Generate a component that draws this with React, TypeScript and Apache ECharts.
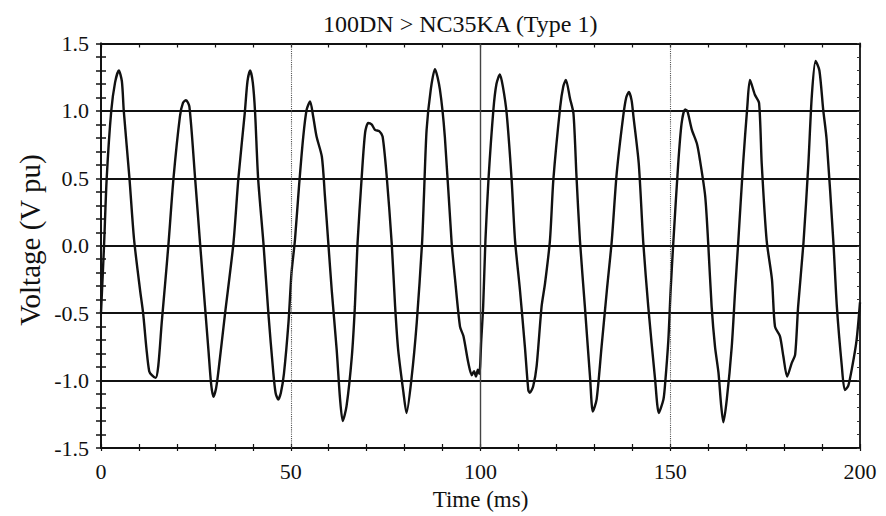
import React, { useEffect, useRef } from "react";
import * as echarts from "echarts";

const chartTitle = "100DN > NC35KA (Type 1)";
const xName = "Time (ms)";
const yName = "Voltage (V pu)";

const timeMs = [
  0, 0.8, 1.5, 2.7, 3.7, 4.7, 5.5, 6.0, 7.5, 8.7, 10.3, 11.1, 12.0, 12.7, 13.4, 14.4, 15.1, 16.0, 16.9, 17.8,
  19.1, 20.8, 21.6, 22.4, 23.3, 24.8, 26.1, 27.4, 28.3, 29.0, 29.6, 30.3, 30.9, 32.7, 34.9,
  36.2, 37.9, 38.6, 39.3, 40.0, 40.6, 41.4, 42.8, 44.1, 45.4, 46.0, 46.7, 47.4, 48.2, 49.4, 50.2, 51.1,
  52.2, 53.3, 54.2, 55.1, 55.9, 56.8, 58.2, 59.0, 59.9, 60.8, 62.1, 63.0, 63.7, 64.7, 66.1, 66.9, 67.6,
  68.7, 69.6, 70.4, 71.3, 72.2, 73.3, 74.2, 75.3, 76.6, 77.5, 78.3, 79.7, 80.5, 81.8, 83.2, 84.6,
  85.1, 85.8, 86.9, 88.0, 89.3, 90.6, 92.4, 93.3, 94.6, 95.5, 96.8, 97.7, 98.3, 98.8, 99.3, 99.7, 100.2, 100.7, 101.3,
  102.1, 103.4, 104.2, 105.1, 105.9, 106.9, 108.2, 109.1, 110.4, 111.7, 112.6, 113.0, 113.9, 114.8, 116.1, 117.0, 118.3,
  119.2, 121.0, 121.8, 122.5, 123.6, 124.5, 125.3, 126.2, 127.5, 128.9, 129.6, 130.6, 131.9, 133.3, 134.6,
  135.9, 137.6, 138.4, 139.1, 139.8, 140.3, 141.7, 142.9, 144.2, 146.0, 147.0, 148.2, 148.6, 149.5, 150.1, 150.8,
  152.1, 153.0, 153.9, 154.5, 155.7, 157.0, 157.8, 159.2, 160.0, 160.9, 161.8, 162.7, 163.4, 164.0, 164.9, 166.2, 167.1, 167.9,
  169.2, 170.3, 171.0, 172.3, 173.4, 174.1, 175.4, 176.8, 177.6, 178.9, 179.8, 180.8, 182.0, 182.9, 183.7, 185.1,
  186.4, 187.3, 188.3, 189.3, 190.3, 191.2, 193.0, 193.9, 195.2, 196.0, 196.9, 198.0, 199.1, 200.0,
];

const voltagePu = [
  -0.5, 0.0, 0.5, 1.0, 1.21, 1.3, 1.22, 1.0, 0.5, 0.05, -0.33, -0.5, -0.77, -0.93, -0.96, -0.98, -0.89, -0.57, -0.28, 0.02,
  0.5, 0.96, 1.06, 1.08, 1.03, 0.5, 0.02, -0.45, -0.77, -1.02, -1.12, -1.06, -0.94, -0.5, 0.02,
  0.5, 0.99, 1.22, 1.3, 1.21, 0.99, 0.5, 0.02, -0.5, -0.94, -1.09, -1.14, -1.09, -0.95, -0.57, -0.2, 0.04,
  0.45, 0.81, 1.01, 1.07, 0.96, 0.81, 0.66, 0.37, 0.02, -0.33, -0.77, -1.14, -1.3, -1.19, -0.82, -0.45, 0.02,
  0.51, 0.84, 0.91, 0.9, 0.86, 0.85, 0.81, 0.51, 0.02, -0.45, -0.77, -1.09, -1.24, -0.99, -0.57, 0.02,
  0.37, 0.86, 1.16, 1.31, 1.16, 0.81, 0.02, -0.25, -0.6, -0.67, -0.87, -0.96, -0.93, -0.97, -0.92, -0.95, -0.7, -0.45, 0.04,
  0.49, 1.01, 1.2, 1.27, 1.18, 0.98, 0.49, 0.04, -0.33, -0.75, -1.07, -1.09, -1.04, -0.89, -0.45, -0.28, 0.04,
  0.49, 1.03, 1.18, 1.23, 1.09, 0.98, 0.51, 0.04, -0.45, -0.99, -1.23, -1.14, -0.75, -0.33, 0.04,
  0.54, 0.96, 1.1, 1.14, 1.08, 0.96, 0.61, 0.02, -0.45, -0.99, -1.24, -1.14, -1.04, -0.7, -0.33, 0.02,
  0.61, 0.91, 1.01, 1.0, 0.86, 0.76, 0.64, 0.37, 0.02, -0.45, -0.75, -0.94, -1.18, -1.31, -1.14, -0.75, -0.33, 0.02,
  0.61, 1.03, 1.23, 1.12, 1.06, 0.61, 0.04, -0.25, -0.6, -0.67, -0.82, -0.97, -0.87, -0.81, -0.45, 0.02,
  0.61, 1.11, 1.37, 1.3, 1.01, 0.79, 0.02, -0.45, -0.89, -1.07, -1.04, -0.89, -0.7, -0.42,
];

const dividerTimes = [50, 100, 150];
const dividerStyles = ["dotted", "solid", "dotted"];

const serif = "Liberation Serif";

export default function App() {
  const ref = useRef<HTMLDivElement>(null);

  useEffect(() => {
    if (!ref.current) return;
    const chart = echarts.init(ref.current, undefined, { renderer: "svg" });

    const black = "#111";
    const baseX = {
      type: "value" as const,
      min: 0,
      max: 200,
      interval: 50,
      gridIndex: 0,
      splitLine: { show: false },
      axisLabel: { show: false },
      axisLine: { show: true, onZero: false, lineStyle: { color: black, width: 1.8 } },
    };
    const baseY = {
      type: "value" as const,
      min: -1.5,
      max: 1.5,
      interval: 0.5,
      gridIndex: 0,
      splitLine: { show: false },
      axisLabel: { show: false },
      axisLine: { show: true, onZero: false, lineStyle: { color: black, width: 1.8 } },
    };

    const data = timeMs.map((t, i) => [t, voltagePu[i]]);

    chart.setOption({
      animation: false,
      backgroundColor: "#fff",
      title: {
        text: chartTitle,
        left: 318,
        top: 7,
        textStyle: { fontFamily: serif, fontSize: 24, fontWeight: "normal", color: black },
      },
      grid: { left: 101, right: 26, top: 43.5, bottom: 67.5, containLabel: false },
      xAxis: [
        {
          ...baseX,
          position: "bottom",
          axisTick: { show: true, inside: true, length: 4, lineStyle: { color: black, width: 1.2 } },
          minorTick: { show: true, splitNumber: 5, length: 4, lineStyle: { color: black, width: 1.2 } },
          axisLabel: { show: true, fontFamily: serif, fontSize: 22, color: black, margin: 12 },
          name: xName,
          nameLocation: "middle",
          nameGap: 40,
          nameTextStyle: { fontFamily: serif, fontSize: 23, color: black },
        },
        {
          ...baseX,
          position: "bottom",
          axisTick: { show: true, inside: false, length: 3, lineStyle: { color: black, width: 1.2 } },
          minorTick: { show: true, splitNumber: 5, length: 3, lineStyle: { color: black, width: 1.2 } },
        },
        {
          ...baseX,
          position: "top",
          axisTick: { show: true, inside: true, length: 4, lineStyle: { color: black, width: 1.2 } },
          minorTick: { show: true, splitNumber: 5, length: 4, lineStyle: { color: black, width: 1.2 } },
        },
      ],
      yAxis: [
        {
          ...baseY,
          position: "left",
          splitLine: { show: true, lineStyle: { color: black, width: 1.8 } },
          axisTick: { show: true, inside: true, length: 5, lineStyle: { color: black, width: 1.5 } },
          minorTick: { show: true, splitNumber: 5, length: 5, lineStyle: { color: black, width: 1.5 } },
          axisLabel: {
            show: true,
            fontFamily: serif,
            fontSize: 22,
            color: black,
            margin: 12,
            formatter: (v: number) => v.toFixed(1),
          },
        },
        {
          ...baseY,
          position: "left",
          axisTick: { show: true, inside: false, length: 5, lineStyle: { color: black, width: 1.5 } },
          minorTick: { show: true, splitNumber: 5, length: 5, lineStyle: { color: black, width: 1.5 } },
        },
        {
          ...baseY,
          position: "right",
          axisTick: { show: true, inside: true, length: 3, lineStyle: { color: "#333", width: 1 } },
          minorTick: { show: true, splitNumber: 5, length: 3, lineStyle: { color: "#333", width: 1 } },
        },
      ],
      graphic: [
        {
          type: "text",
          x: 30,
          y: 240,
          rotation: Math.PI / 2,
          style: {
            text: yName,
            fontFamily: serif,
            fontSize: 29,
            fill: black,
            align: "center",
            verticalAlign: "middle",
          },
        },
      ],
      series: [
        {
          type: "line",
          xAxisIndex: 0,
          yAxisIndex: 0,
          data,
          showSymbol: false,
          symbol: "none",
          smooth: 0.25,
          lineStyle: { color: black, width: 2.4 },
          markLine: {
            silent: true,
            symbol: "none",
            label: { show: false },
            data: dividerTimes.map((t, i) => ({
              xAxis: t,
              lineStyle: {
                type: dividerStyles[i],
                color: i === 1 ? "#444" : "#555",
                width: i === 1 ? 1.4 : 1.1,
              },
            })),
          },
        },
      ],
    });

    return () => chart.dispose();
  }, []);

  return (
    <div
      ref={ref}
      style={{ position: "fixed", left: 0, top: 0, width: 886, height: 516, background: "#fff" }}
    />
  );
}
